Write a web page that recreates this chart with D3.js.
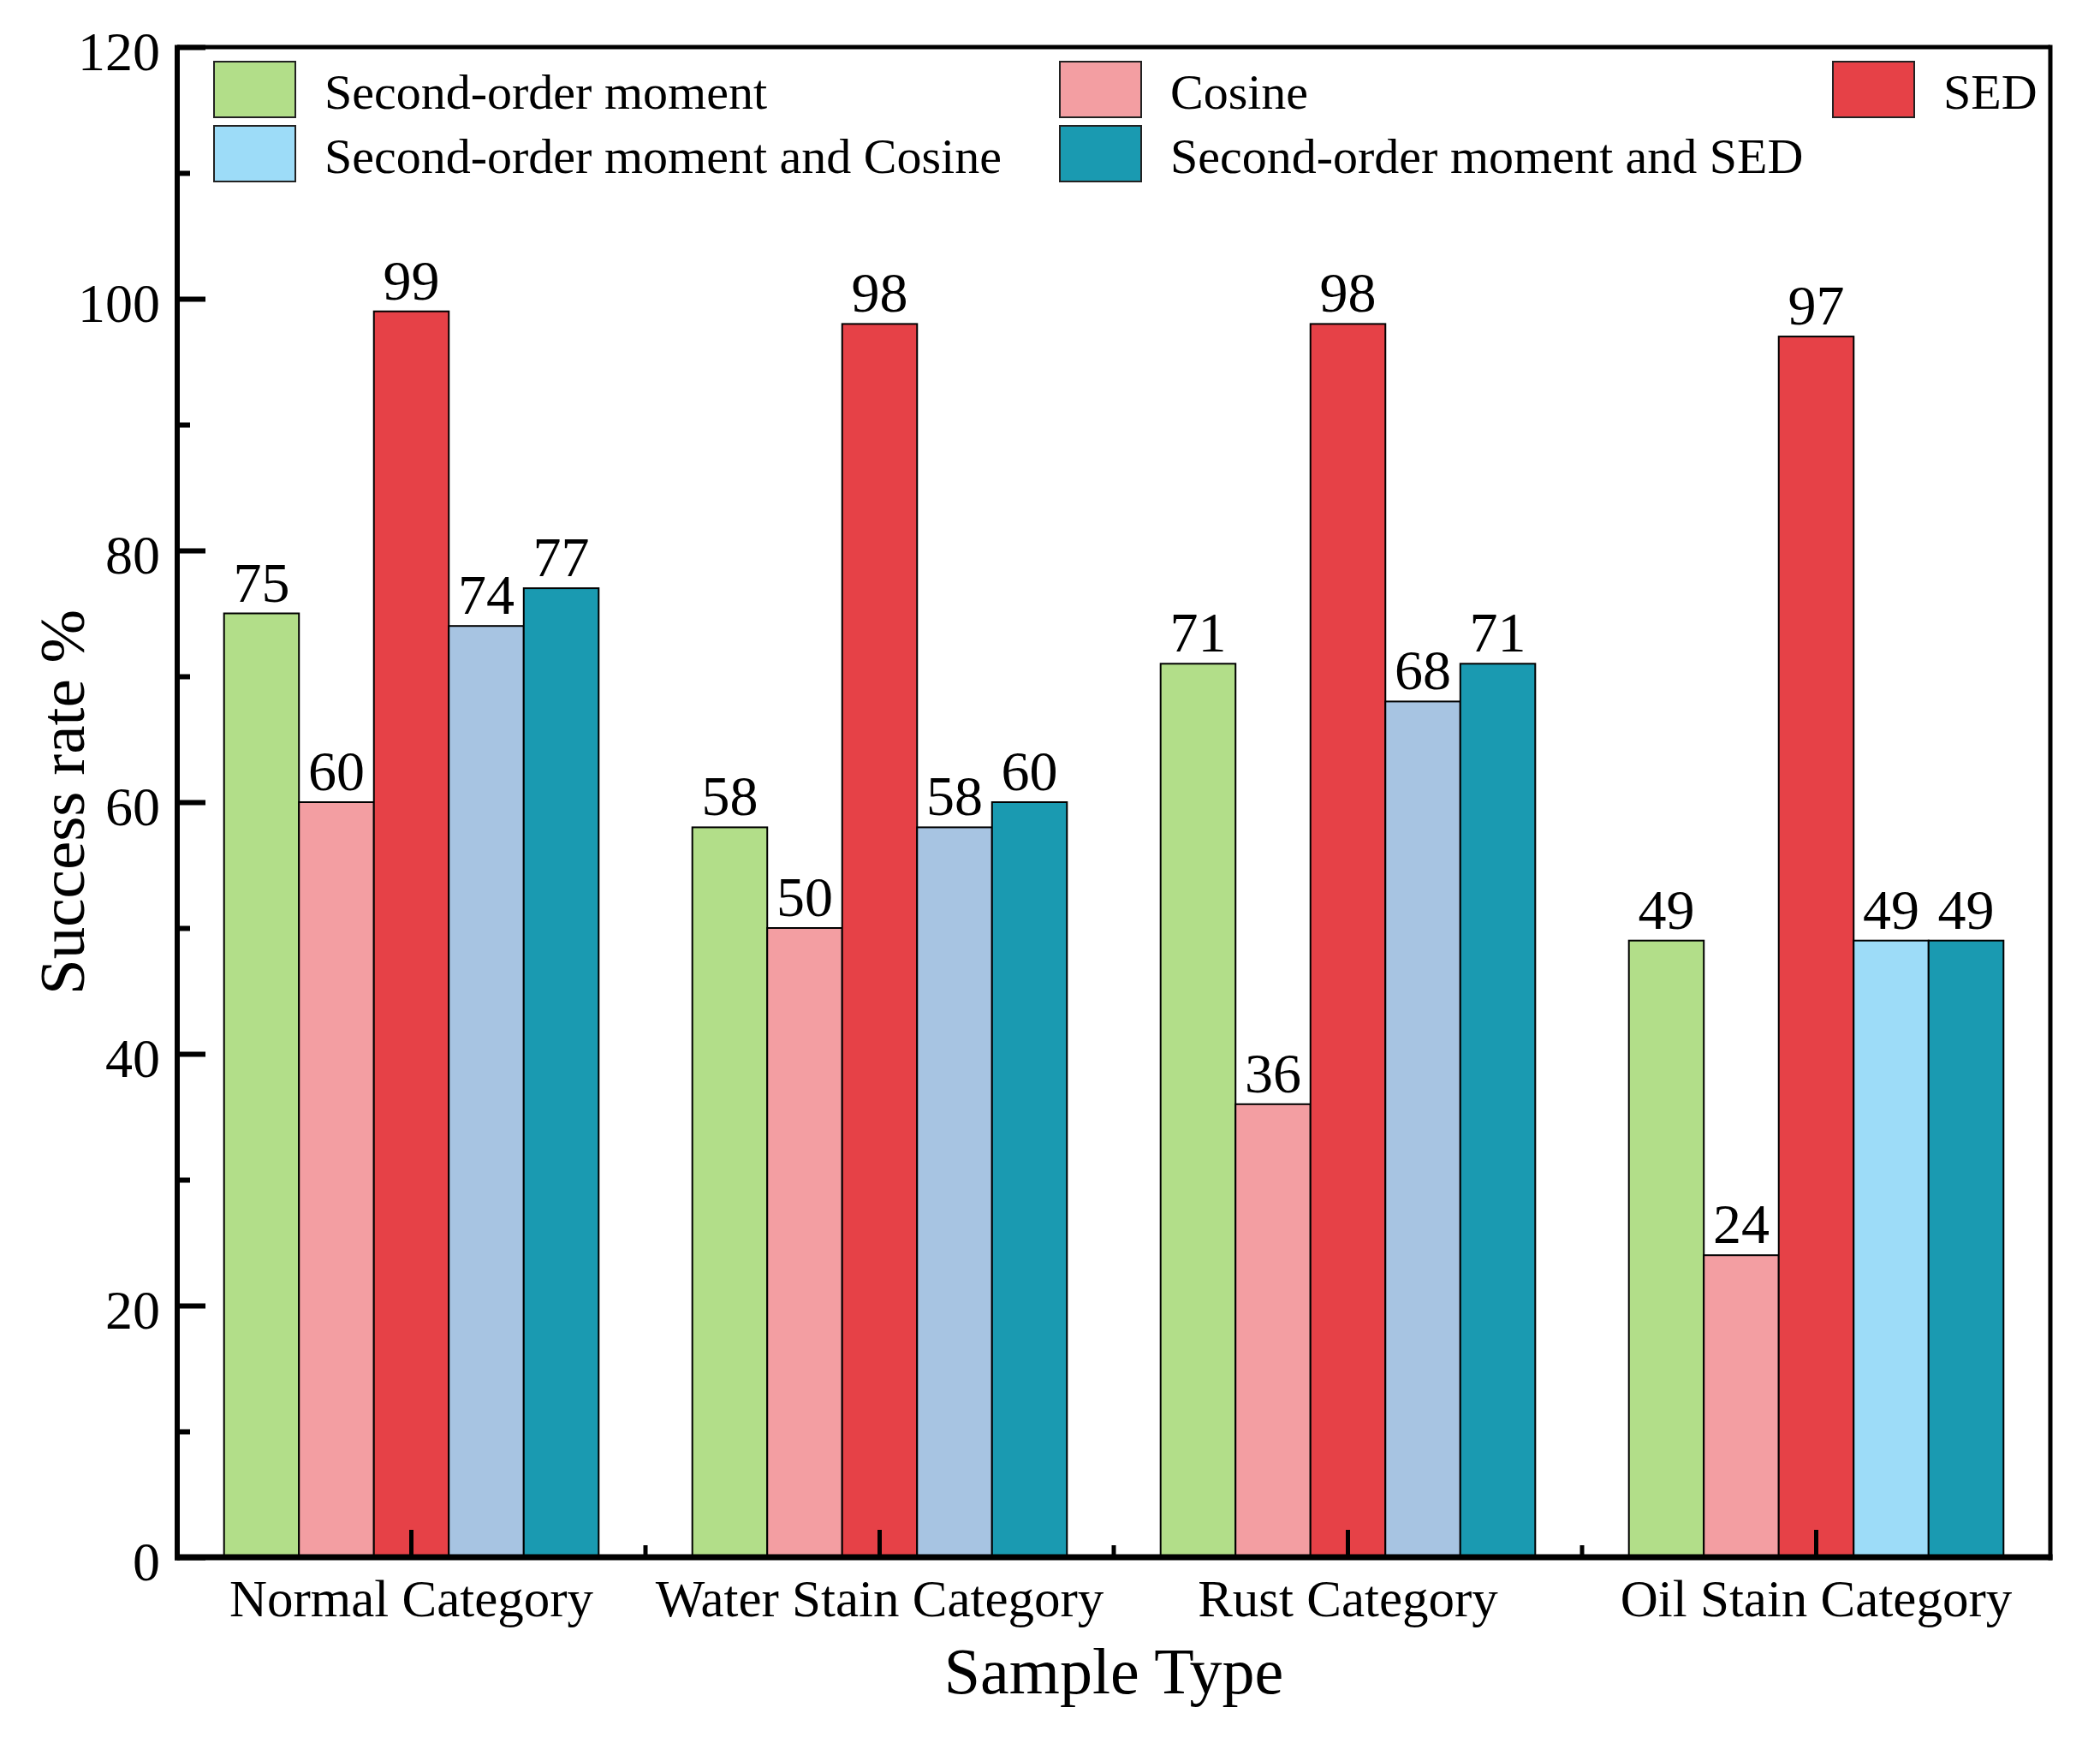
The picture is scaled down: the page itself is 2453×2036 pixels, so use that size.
<!DOCTYPE html>
<html>
<head>
<meta charset="utf-8">
<script src="https://cdn.jsdelivr.net/npm/d3@7"></script>
<style>
  html, body { margin: 0; padding: 0; background: #fff; }
  svg { display: block; font-family: "Liberation Serif", "Times New Roman", serif; }
</style>
</head>
<body>
<svg id="chart" width="2453" height="2036"></svg>
<script>
// ---------- data ----------
const categories = ["Normal Category", "Water Stain Category", "Rust Category", "Oil Stain Category"];
const seriesNames = ["Second-order moment", "Cosine", "SED", "Second-order moment and Cosine", "Second-order moment and SED"];
const secondOrder = [75, 58, 71, 49];
const cosine = [60, 50, 36, 24];
const sed = [99, 98, 98, 97];
const secondCosine = [74, 58, 68, 49];
const secondSed = [77, 60, 71, 49];
const yMajorTicks = [0, 20, 40, 60, 80, 100, 120];
const yMinorTicks = [10, 30, 50, 70, 90, 110];
const xTitle = "Sample Type";
const yTitle = "Success rate %";

// ---------- styles ----------
const seriesColors = ["#b2de89", "#f39ea2", "#e64147", "#9ddcf8", "#1a9ab1"];
// the 4th series is drawn in a steel blue in the first three groups
const barColorOverride = { 3: ["#a7c4e2", "#a7c4e2", "#a7c4e2", "#9ddcf8"] };

const values = [secondOrder, cosine, sed, secondCosine, secondSed];

const W = 2453, H = 2036;
const plot = { left: 207, right: 2395, top: 55, bottom: 1819 };

const svg = d3.select("#chart");

const x0 = d3.scaleBand().domain(categories).range([plot.left, plot.right]).paddingInner(0).paddingOuter(0);
const bw = x0.bandwidth();
const x1 = d3.scaleBand().domain(d3.range(seriesNames.length)).range([0.1 * bw, 0.9 * bw]).padding(0);
const y = d3.scaleLinear().domain([0, 120]).range([plot.bottom, plot.top]);

// ---------- bars ----------
const barData = [];
categories.forEach((c, ci) => {
  values.forEach((arr, si) => {
    const col = barColorOverride[si] ? barColorOverride[si][ci] : seriesColors[si];
    barData.push({ cat: c, ci, si, v: arr[ci], color: col });
  });
});

svg.append("g").selectAll("rect").data(barData).join("rect")
  .attr("x", d => x0(d.cat) + x1(d.si))
  .attr("y", d => y(d.v))
  .attr("width", x1.bandwidth())
  .attr("height", d => y(0) - y(d.v))
  .attr("fill", d => d.color)
  .attr("stroke", "#000")
  .attr("stroke-width", 2);

// value labels
svg.append("g").selectAll("text").data(barData).join("text")
  .attr("x", d => x0(d.cat) + x1(d.si) + x1.bandwidth() / 2)
  .attr("y", d => y(d.v) - 14)
  .attr("text-anchor", "middle")
  .attr("font-size", 66)
  .attr("fill", "#000")
  .text(d => d.v);

// ---------- frame ----------
const frame = svg.append("g").attr("stroke", "#000").attr("fill", "none");
frame.append("line").attr("x1", plot.left).attr("x2", plot.right).attr("y1", plot.top).attr("y2", plot.top).attr("stroke-width", 5);
frame.append("line").attr("x1", plot.right).attr("x2", plot.right).attr("y1", plot.top - 2.5).attr("y2", plot.bottom + 3.5).attr("stroke-width", 5);
frame.append("line").attr("x1", plot.left).attr("x2", plot.left).attr("y1", plot.top - 2.5).attr("y2", plot.bottom + 3.5).attr("stroke-width", 6);
frame.append("line").attr("x1", plot.left - 3).attr("x2", plot.right + 2.5).attr("y1", plot.bottom).attr("y2", plot.bottom).attr("stroke-width", 7);

// ---------- y axis ----------
const yAxis = svg.append("g").attr("transform", `translate(${plot.left},0)`)
  .call(d3.axisLeft(y).tickValues(yMajorTicks).tickSize(-33).tickPadding(20).tickFormat(d3.format("d")));
yAxis.select(".domain").remove();
yAxis.selectAll(".tick line").attr("stroke", "#000").attr("stroke-width", 6);
yAxis.selectAll(".tick text").attr("font-size", 64).attr("font-family", "Liberation Serif, Times New Roman, serif")
  .attr("fill", "#000").attr("dy", "0.42em");

const yMinor = svg.append("g").attr("transform", `translate(${plot.left},0)`)
  .call(d3.axisLeft(y).tickValues(yMinorTicks).tickSize(-15).tickFormat(""));
yMinor.select(".domain").remove();
yMinor.selectAll(".tick line").attr("stroke", "#000").attr("stroke-width", 6);

// ---------- x axis ----------
const xAxis = svg.append("g").attr("transform", `translate(0,${plot.bottom})`)
  .call(d3.axisBottom(x0).tickSize(-32).tickPadding(26));
xAxis.select(".domain").remove();
xAxis.selectAll(".tick line").attr("stroke", "#000").attr("stroke-width", 5);
xAxis.selectAll(".tick text").attr("font-size", 61).attr("font-family", "Liberation Serif, Times New Roman, serif").attr("fill", "#000");

// minor ticks at category boundaries
svg.append("g").selectAll("line").data(categories.slice(1)).join("line")
  .attr("x1", d => x0(d)).attr("x2", d => x0(d))
  .attr("y1", plot.bottom).attr("y2", plot.bottom - 14)
  .attr("stroke", "#000").attr("stroke-width", 5);

// ---------- axis titles ----------
svg.append("text")
  .attr("x", (plot.left + plot.right) / 2)
  .attr("y", 1978)
  .attr("text-anchor", "middle")
  .attr("font-size", 76)
  .text(xTitle);

svg.append("text")
  .attr("transform", `translate(98,${(plot.top + plot.bottom) / 2}) rotate(-90)`)
  .attr("text-anchor", "middle")
  .attr("font-size", 75)
  .text(yTitle);

// ---------- legend ----------
const legendCols = [250, 1238, 2141];
const legendRows = [72, 147];
const legendOrder = [0, 1, 2, 3, 4];
const legendPos = legendOrder.map((si, i) => ({ si, x: legendCols[i % 3], y: legendRows[Math.floor(i / 3)] }));

const leg = svg.append("g").selectAll("g").data(legendPos).join("g")
  .attr("transform", d => `translate(${d.x},${d.y})`);
leg.append("rect")
  .attr("width", 95).attr("height", 65)
  .attr("fill", d => seriesColors[d.si])
  .attr("stroke", "#222").attr("stroke-width", 2);
leg.append("text")
  .attr("x", 129).attr("y", 55)
  .attr("font-size", 58)
  .text(d => seriesNames[d.si]);
</script>
</body>
</html>
